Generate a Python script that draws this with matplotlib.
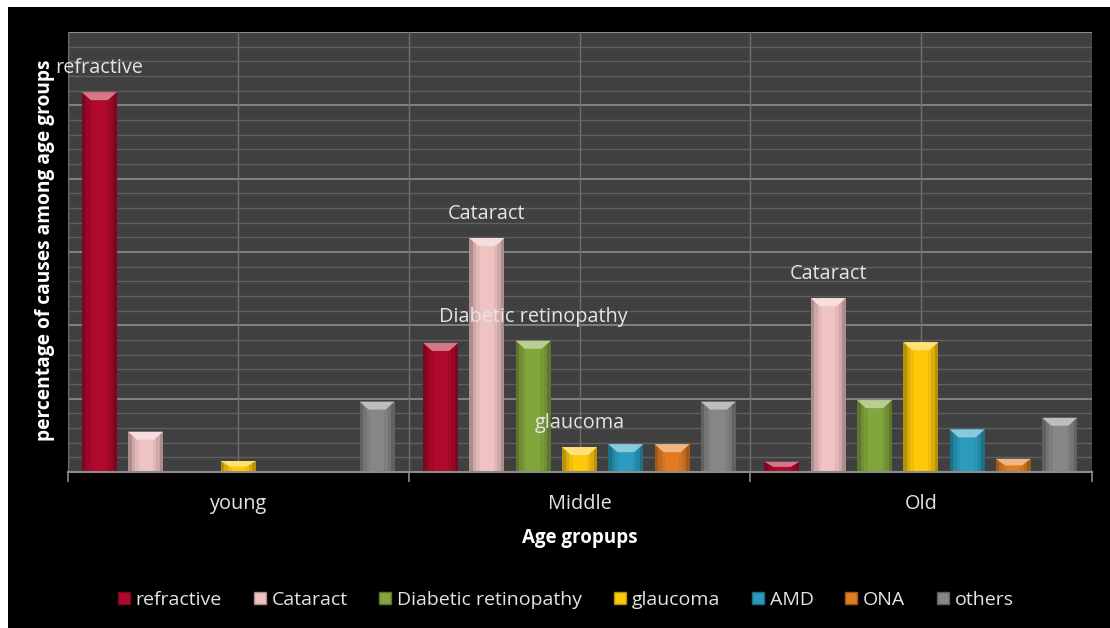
import numpy as np
import matplotlib
matplotlib.use("Agg")
import matplotlib.pyplot as plt
from matplotlib.patches import Rectangle, Polygon
from matplotlib.lines import Line2D
from matplotlib.colors import to_rgb

# ---- data -------------------------------------------------------------
categories = ["young", "Middle", "Old"]
series_names = ["refractive", "Cataract", "Diabetic retinopathy",
                "glaucoma", "AMD", "ONA", "others"]
refractive = [25.9, 8.8, 0.7]
cataract = [2.75, 15.95, 11.85]
diabetic_retinopathy = [0.0, 8.95, 4.9]
glaucoma = [0.75, 1.7, 8.85]
amd = [0.0, 1.9, 2.9]
ona = [0.0, 1.9, 0.9]
others = [4.8, 4.8, 3.7]
series_values = [refractive, cataract, diabetic_retinopathy, glaucoma,
                 amd, ona, others]
series_colors = ["#b0092b", "#f0c3c3", "#82a63c", "#ffc90a",
                 "#2a9bbd", "#e07b22", "#878787"]
# (category index, series index) of bars carrying a name label
labelled_bars = [(0, 0), (1, 1), (1, 2), (1, 3), (2, 1)]

TEXT = "#e4e4e4"
FONT = ["Open Sans", "DejaVu Sans"]
plt.rcParams["font.family"] = FONT

W, H, DPI = 1110, 628, 100
fig = plt.figure(figsize=(W / DPI, H / DPI), dpi=DPI, facecolor="white")
# black chart area inside a thin white margin
fig.patches.append(Rectangle((8 / W, 0), 1, (H - 7) / H, transform=fig.transFigure,
                             facecolor="black", edgecolor="none", zorder=-10))

left, right, top, bottom = 67.5, 1091.5, 32, 472
ax = fig.add_axes([left / W, 1 - bottom / H, (right - left) / W, (bottom - top) / H])
ax.set_facecolor("#404040")

ymax = 30
ax.set_xlim(-0.5, len(categories) - 0.5)
ax.set_ylim(0, ymax)

# horizontal grid: major every 5, minor every 1
for y in np.arange(1, ymax, 1):
    major = (y % 5 == 0)
    ax.axhline(y, color="#8c8c8c" if major else "#5f5f5f",
               lw=1.2 if major else 1.0, zorder=0.5)
ax.axhline(ymax, color="#8c8c8c", lw=1.5, zorder=0.5)
# vertical grid at category centres and boundaries
for xv in np.arange(-0.5, len(categories), 0.5):
    ax.axvline(xv, color="#6e6e6e", lw=1.0, zorder=0.6)

px_per_x = (right - left) / len(categories)
px_per_y = (bottom - top) / ymax
pitch = 46.3 / px_per_x
width = 35.0 / px_per_x
n = len(series_names)


def lighten(c, f):
    r = np.array(to_rgb(c))
    return tuple(r + (1 - r) * f)


def darken(c, f):
    return tuple(np.array(to_rgb(c)) * f)


x_base = np.arange(len(categories))
for j, (vals, col) in enumerate(zip(series_values, series_colors)):
    xs = x_base + (j - (n - 1) / 2) * pitch
    ax.bar(xs, vals, width=width, color=col, edgecolor="none", zorder=2)
    for x, h in zip(xs, vals):
        if h <= 0:
            continue
        x0, x1 = x - width / 2, x + width / 2
        # darker shading along the bar sides
        side = 3.5 / px_per_x
        for k, f in enumerate((0.72, 0.86, 0.94)):
            ax.add_patch(Rectangle((x0 + k * side, 0), side, h, facecolor=darken(col, f),
                                   edgecolor="none", zorder=2.1))
            ax.add_patch(Rectangle((x1 - (k + 1) * side, 0), side, h,
                                   facecolor=darken(col, f), edgecolor="none", zorder=2.1))
        # bevelled top face
        d = min(8.0 / px_per_y, h * 0.5)
        dx = 9.0 / px_per_x
        ax.add_patch(Polygon([(x0, h), (x1, h), (x1 - dx, h - d), (x0 + dx, h - d)],
                             closed=True, facecolor=lighten(col, 0.45),
                             edgecolor="none", zorder=2.2))

# name labels above selected bars
for ci, si in labelled_bars:
    x = ci + (si - (n - 1) / 2) * pitch
    h = series_values[si][ci]
    ax.annotate(series_names[si], xy=(x, h), xytext=(0, 24),
                textcoords="offset pixels", ha="center", va="center",
                color=TEXT, fontsize=14.3, zorder=5)

# axes styling
for s in ("left", "right", "top"):
    ax.spines[s].set_visible(False)
ax.spines["bottom"].set_color("#8c8c8c")
ax.spines["bottom"].set_linewidth(1.5)
ax.set_yticks([])
ax.set_xticks(x_base)
ax.set_xticklabels(categories, color=TEXT, fontsize=14.3)
ax.tick_params(axis="x", which="major", length=0, pad=16)
ax.set_xticks(np.arange(-0.5, len(categories), 1.0), minor=True)
ax.tick_params(axis="x", which="minor", length=7, width=1.2, color="#8c8c8c",
               direction="out")

fig.text(45 / W, 1 - 250 / H, "percentage of causes among age groups",
         rotation=90, ha="center", va="center", color="white",
         fontsize=13.8, fontweight="bold")
fig.text(580 / W, 1 - 538 / H, "Age gropups", ha="center", va="center",
         color="white", fontsize=13.5, fontweight="bold")

handles = [Line2D([], [], marker="s", linestyle="none", markersize=9,
                  markerfacecolor=c, markeredgecolor=darken(c, 0.7))
           for c in series_colors]
fig.legend(handles, series_names, loc="center", bbox_to_anchor=(566 / W, 1 - 600 / H),
           ncol=n, frameon=False, fontsize=14, labelcolor=TEXT,
           handlelength=0.6, handletextpad=0.3, columnspacing=1.65)

fig.savefig("out.png", dpi=DPI, facecolor=fig.get_facecolor())
